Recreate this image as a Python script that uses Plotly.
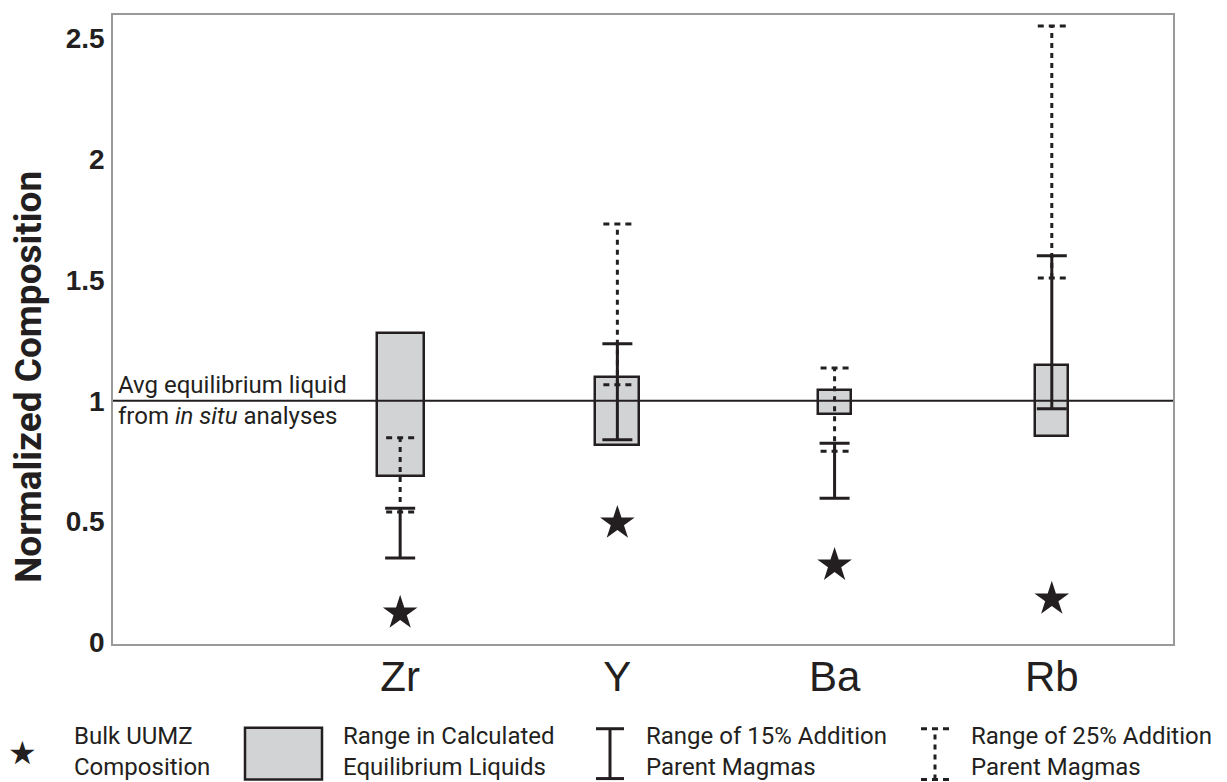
import plotly.graph_objects as go

# ---------------- data ----------------
elements = ["Zr", "Y", "Ba", "Rb"]
bulk_uumz = [0.122, 0.494, 0.320, 0.180]          # stars
equil_low = [0.688, 0.815, 0.945, 0.856]          # grey boxes
equil_high = [1.279, 1.099, 1.045, 1.146]
add15_low = [0.350, 0.839, 0.597, 0.967]          # solid I-bars
add15_high = [0.555, 1.236, 0.824, 1.599]
add25_low = [0.540, 1.066, 0.791, 1.507]          # dotted I-bars
add25_high = [0.847, 1.731, 1.135, 2.550]
avg_reference = 1.0
y_ticks = [0, 0.5, 1, 1.5, 2, 2.5]
y_tick_labels = ["0", "0.5", "1", "1.5", "2", "2.5"]

# ---------------- style ----------------
INK = "#231f20"
BOX = "#d1d3d4"
FRAME = "#9a9a9a"
TXT_FONT = "Roboto"
OFF = 8                      # page body margin
W, H = 1227 - OFF, 782 - OFF
L, R, T, B = 113 - OFF, 54, 13 - OFF, 138
PW, PH = W - L - R, H - T - B

def px(x):
    return (x - OFF - L) / PW

def py(y):
    return (H - B - (y - OFF)) / PH

idx = list(range(len(elements)))
CAP = 0.0645

fig = go.Figure()

# boxes: range in calculated equilibrium liquids
fig.add_trace(go.Bar(
    x=idx, base=equil_low, y=[h - l for h, l in zip(equil_high, equil_low)],
    width=[0.216, 0.203, 0.152, 0.152],
    marker=dict(color=BOX, line=dict(color=INK, width=2.5)),
    showlegend=False, hoverinfo="skip"))

# dotted: 25% addition ranges
vx, vy, cx, cy = [], [], [], []
for i, lo, hi in zip(idx, add25_low, add25_high):
    vx += [i, i, None]
    vy += [lo, hi, None]
    cx += [i - CAP, i + CAP, None, i - CAP, i + CAP, None]
    cy += [hi, hi, None, lo, lo, None]
fig.add_trace(go.Scatter(x=vx, y=vy, mode="lines",
                         line=dict(color=INK, width=3, dash="5px,5px"),
                         showlegend=False, hoverinfo="skip"))
fig.add_trace(go.Scatter(x=cx, y=cy, mode="lines",
                         line=dict(color=INK, width=3, dash="6px,5px"),
                         showlegend=False, hoverinfo="skip"))

# solid: 15% addition ranges
mid15 = [(l + h) / 2 for l, h in zip(add15_low, add15_high)]
half15 = [(h - l) / 2 for l, h in zip(add15_low, add15_high)]
fig.add_trace(go.Scatter(
    x=idx, y=mid15, mode="markers", marker=dict(size=1, opacity=0),
    error_y=dict(type="data", array=half15, symmetric=True,
                 color=INK, thickness=3, width=15),
    showlegend=False, hoverinfo="skip"))

# stars: bulk UUMZ composition
fig.add_trace(go.Scatter(
    x=idx, y=bulk_uumz, mode="markers",
    marker=dict(symbol="star", size=26, color=INK, line=dict(width=0)),
    showlegend=False, hoverinfo="skip"))

shapes = [
    dict(type="line", xref="paper", yref="y", x0=0, x1=1,
         y0=avg_reference, y1=avg_reference, line=dict(color=INK, width=2)),
    # legend box
    dict(type="rect", xref="paper", yref="paper", x0=px(245), x1=px(322),
         y0=py(780), y1=py(728), fillcolor=BOX, line=dict(color=INK, width=2.5)),
    # legend solid I-bar
    dict(type="line", xref="paper", yref="paper", x0=px(610), x1=px(610),
         y0=py(779), y1=py(729), line=dict(color=INK, width=3)),
    dict(type="line", xref="paper", yref="paper", x0=px(596), x1=px(624),
         y0=py(729), y1=py(729), line=dict(color=INK, width=3)),
    dict(type="line", xref="paper", yref="paper", x0=px(596), x1=px(624),
         y0=py(779), y1=py(779), line=dict(color=INK, width=3)),
    # legend dotted I-bar
    dict(type="line", xref="paper", yref="paper", x0=px(935), x1=px(935),
         y0=py(780), y1=py(729), line=dict(color=INK, width=3, dash="5px,5px")),
    dict(type="line", xref="paper", yref="paper", x0=px(921), x1=px(949),
         y0=py(729), y1=py(729), line=dict(color=INK, width=3, dash="6px,5px")),
    dict(type="line", xref="paper", yref="paper", x0=px(921), x1=px(949),
         y0=py(780), y1=py(780), line=dict(color=INK, width=3, dash="6px,5px")),
]

legend_font = dict(family=TXT_FONT, size=24, color=INK)
annotations = [
    dict(xref="paper", yref="y", x=px(116), y=avg_reference, xanchor="left",
         yanchor="middle", showarrow=False, align="left",
         text="Avg equilibrium liquid<br>from <i>in situ</i> analyses",
         font=dict(family=TXT_FONT, size=24, color=INK)),
    dict(xref="paper", yref="paper", x=px(29), y=py(376), xanchor="center",
         yanchor="middle", showarrow=False, textangle=-90, borderpad=0,
         text="<b>Normalized Composition</b>",
         font=dict(family=TXT_FONT, size=37, color=INK)),
    dict(xref="paper", yref="paper", x=px(22), y=py(753), xanchor="center",
         yanchor="middle", showarrow=False, text="★",
         font=dict(family="DejaVu Sans", size=32, color=INK)),
    dict(xref="paper", yref="paper", x=px(72), y=py(752), xanchor="left",
         yanchor="middle", showarrow=False, align="left",
         text="Bulk UUMZ<br>Composition", font=legend_font),
    dict(xref="paper", yref="paper", x=px(341), y=py(752), xanchor="left",
         yanchor="middle", showarrow=False, align="left",
         text="Range in Calculated<br>Equilibrium Liquids", font=legend_font),
    dict(xref="paper", yref="paper", x=px(644), y=py(752), xanchor="left",
         yanchor="middle", showarrow=False, align="left",
         text="Range of 15% Addition<br>Parent Magmas", font=legend_font),
    dict(xref="paper", yref="paper", x=px(969), y=py(752), xanchor="left",
         yanchor="middle", showarrow=False, align="left",
         text="Range of 25% Addition<br>Parent Magmas", font=legend_font),
]

fig.update_layout(
    width=W, height=H,
    margin=dict(l=L, r=R, t=T, b=B),
    paper_bgcolor="white", plot_bgcolor="white",
    shapes=shapes, annotations=annotations,
    showlegend=False, bargap=0,
    xaxis=dict(range=[-1.322, 3.558], tickmode="array", tickvals=idx,
               ticktext=elements, showgrid=False, zeroline=False,
               showline=True, mirror=True, linecolor=FRAME, linewidth=1.5,
               ticks="", ticklabelstandoff=-5,
               tickfont=dict(family="Liberation Sans", size=42, color=INK)),
    yaxis=dict(range=[-0.006, 2.595], tickmode="array", tickvals=y_ticks,
               ticktext=y_tick_labels, showgrid=False, zeroline=False,
               showline=True, mirror=True, linecolor=FRAME, linewidth=1.5,
               ticks="", ticklabelstandoff=1,
               tickfont=dict(family="Liberation Sans", size=28, color=INK,
                             weight="bold")),
)

fig.write_html("out.html")
